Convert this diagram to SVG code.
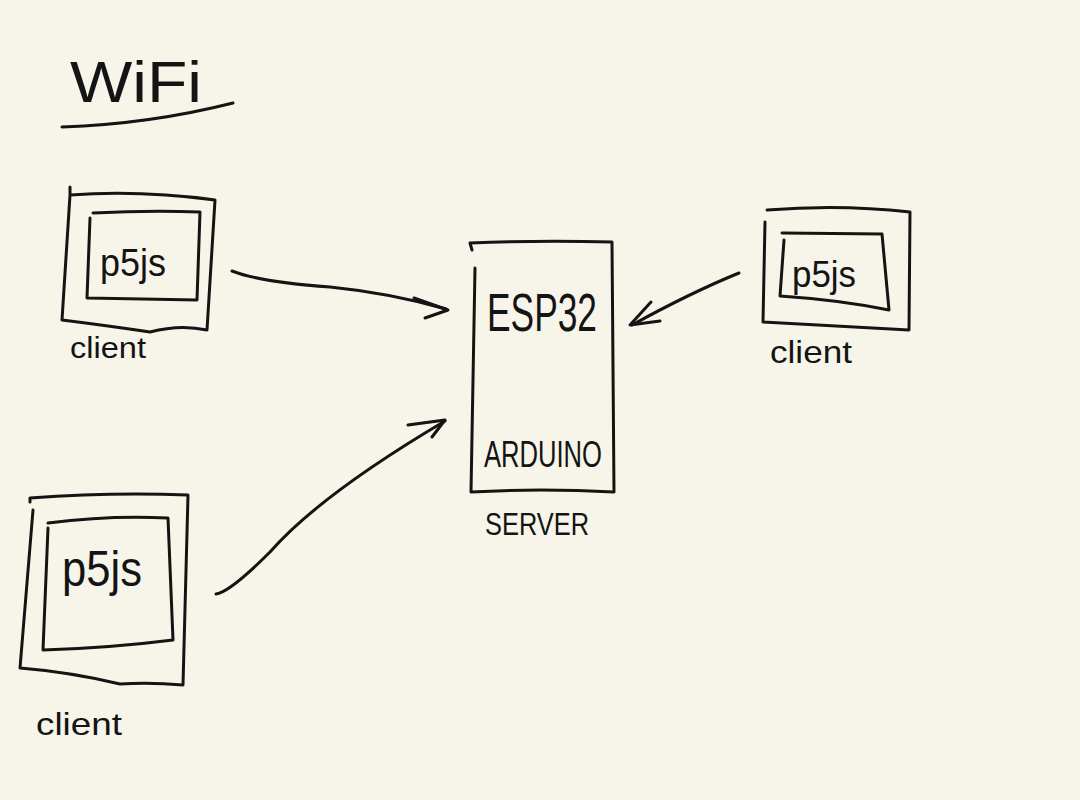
<svg xmlns="http://www.w3.org/2000/svg" width="1080" height="800" viewBox="0 0 1080 800">
<style>
.s{fill:none;stroke:#141414;stroke-width:3;stroke-linecap:round;stroke-linejoin:round}
.t{font-family:"Liberation Sans","DejaVu Sans",sans-serif;fill:#141414}
</style>
<rect width="1080" height="800" fill="#f7f5ea"/>
<g id="title">
<text class="t" x="70" y="102" font-size="58" textLength="132" lengthAdjust="spacingAndGlyphs">WiFi</text>
<path class="s" d="M62 127 Q150 124 233 103"/>
</g>
<g id="client-top-left">
<path class="s" d="M70 187 L70 195 Q140 190 215 200 L207 330 Q180 324 150 332 Q110 326 62 320 L70 195"/>
<path class="s" d="M93 213 Q150 210 200 212 L197 300 L87 298 L90 218"/>
<text class="t" x="100" y="276" font-size="38" textLength="66" lengthAdjust="spacingAndGlyphs">p5js</text>
<text class="t" x="70" y="358" font-size="30" textLength="76" lengthAdjust="spacingAndGlyphs">client</text>
</g>
<g id="server">
<path class="s" d="M472 250 L470 243 Q540 240 612 242 L614 492 Q540 488 471 492 L475 268"/>
<text class="t" x="487" y="331" font-size="54" textLength="110" lengthAdjust="spacingAndGlyphs">ESP32</text>
<text class="t" x="484" y="467" font-size="36" textLength="118" lengthAdjust="spacingAndGlyphs">ARDUINO</text>
<text class="t" x="485" y="535" font-size="32" textLength="104" lengthAdjust="spacingAndGlyphs">SERVER</text>
</g>
<g id="client-right">
<path class="s" d="M767 210 Q840 204 910 212 L909 330 Q840 326 763 322 L765 222"/>
<path class="s" d="M782 233 L882 234 L889 310 Q840 300 780 296 L784 240"/>
<text class="t" x="792" y="287" font-size="36" textLength="64" lengthAdjust="spacingAndGlyphs">p5js</text>
<text class="t" x="770" y="363" font-size="32" textLength="82" lengthAdjust="spacingAndGlyphs">client</text>
</g>
<g id="client-bottom-left">
<path class="s" d="M30 502 L30 498 Q110 492 188 495 L183 685 Q150 682 120 684 Q70 672 20 668 L33 510"/>
<path class="s" d="M48 523 Q110 515 168 518 L173 640 Q110 648 43 650 L48 528"/>
<text class="t" x="62" y="586" font-size="50" textLength="80" lengthAdjust="spacingAndGlyphs">p5js</text>
<text class="t" x="36" y="735" font-size="32" textLength="86" lengthAdjust="spacingAndGlyphs">client</text>
</g>
<g id="connectors">
<path class="s" d="M232 271 Q260 282 330 287 Q390 293 446 309"/>
<path class="s" d="M414 298 L448 310 L425 318"/>
<path class="s" d="M739 273 Q690 293 632 325"/>
<path class="s" d="M651 302 L630 325 L660 321"/>
<path class="s" d="M216 594 Q230 592 270 552 Q320 495 445 421"/>
<path class="s" d="M408 425 L445 420 L432 437"/>
</g>
</svg>
